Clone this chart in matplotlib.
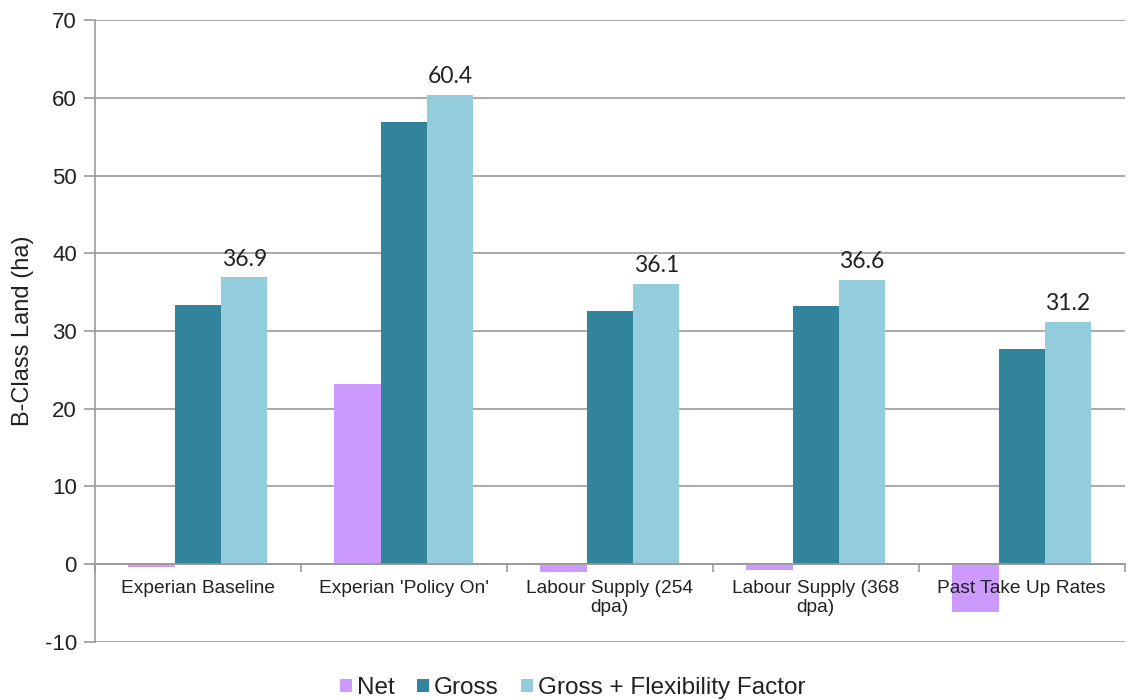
import matplotlib
matplotlib.use("Agg")
import matplotlib.pyplot as plt
import numpy as np

plt.rcParams["axes.unicode_minus"] = False

categories = ["Experian Baseline", "Experian 'Policy On'", "Labour Supply (254\ndpa)",
              "Labour Supply (368\ndpa)", "Past Take Up Rates"]
net = [-0.3, 23.2, -1.0, -0.7, -6.2]
gross = [33.4, 56.9, 32.6, 33.2, 27.7]
flex = [36.9, 60.4, 36.1, 36.6, 31.2]
series_names = ["Net", "Gross", "Gross + Flexibility Factor"]
colors = ["#CC99FF", "#31849B", "#93CDDD"]

fig = plt.figure(figsize=(11.34, 7.0), dpi=100)
ax = fig.add_axes([0.0838, 0.0829, 0.908, 0.8885])

x = np.arange(len(categories))
w = 0.225
for i, (vals, name, c) in enumerate(zip([net, gross, flex], series_names, colors)):
    bars = ax.bar(x + (i - 1) * w, vals, w, color=c, label=name, zorder=3)
    if i == 2:
        for b, v in zip(bars, vals):
            ax.text(b.get_x() + b.get_width() / 2, v + 1.0, f"{v:.1f}",
                    ha="center", va="bottom", fontsize=16.5, family="Lato", color="#222222")

ax.set_xlim(-0.5, len(categories) - 0.5)
ax.set_ylim(-10, 70)
ax.set_yticks(np.arange(-10, 71, 10))
ax.yaxis.grid(True, color="#999999", linewidth=1.2, zorder=0)
ax.set_axisbelow(True)

ax.spines["top"].set_visible(False)
ax.spines["right"].set_visible(False)
ax.spines["left"].set_color("#999999")
ax.spines["left"].set_linewidth(1.2)
ax.spines["bottom"].set_position(("data", 0))
ax.spines["bottom"].set_color("#999999")
ax.spines["bottom"].set_linewidth(1.2)
ax.spines["bottom"].set_zorder(4)

ax.set_xticks(np.arange(-0.5, len(categories), 1.0))
ax.set_xticklabels([])
ax.tick_params(axis="x", which="major", length=6, color="#999999", width=1.2)
ax.tick_params(axis="y", length=8, color="#999999", width=1.2, labelsize=16, pad=5)
for lbl in ax.get_yticklabels():
    lbl.set_family("Liberation Sans")
    lbl.set_color("#222222")

for xi, cat in zip(x, categories):
    ax.annotate(cat, xy=(xi, 0), xytext=(0, -11), textcoords="offset points",
                ha="center", va="top", multialignment="center", linespacing=1.2,
                fontsize=13.8, family="Liberation Sans", color="#222222",
                zorder=6, annotation_clip=False)

ax.set_ylabel("B-Class Land (ha)", fontsize=17, family="Liberation Sans", color="#222222", labelpad=8)

leg = fig.legend(loc="lower center", bbox_to_anchor=(0.505, -0.03), ncol=3, frameon=False,
                 prop={"family": "Liberation Sans", "size": 17.5}, handlelength=0.5,
                 handleheight=0.5, handletextpad=0.2, columnspacing=0.9)
for t in leg.get_texts():
    t.set_color("#222222")

fig.savefig("out.png", dpi=100)
